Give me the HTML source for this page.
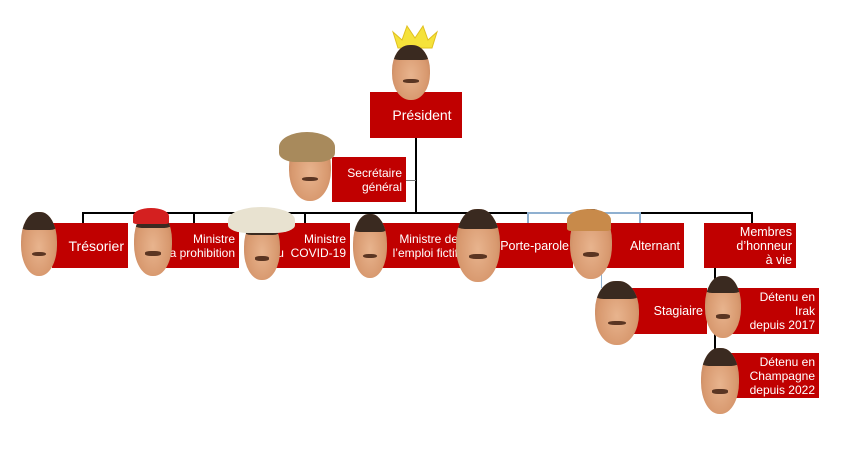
<!DOCTYPE html>
<html><head><meta charset="utf-8"><style>
body{margin:0;width:844px;height:466px;background:#fff;position:relative;overflow:hidden;font-family:"Liberation Sans",sans-serif}
.b{position:absolute;background:#c00000;color:#fff;font-size:12px;line-height:14px;text-align:right;box-sizing:border-box;padding-right:4px;display:flex;flex-direction:column;justify-content:center;align-items:flex-end;white-space:nowrap}
.l{position:absolute;background:#000}
.f{position:absolute;border-radius:46% 46% 48% 48%;background:radial-gradient(ellipse at 50% 55%,#e8b48e 0%,#d8996f 60%,#b97a55 100%);overflow:hidden}
.f::before{content:"";position:absolute;left:0;right:0;top:0;height:28%;background:#3a2a20;border-radius:50% 50% 20% 20%}
.f::after{content:"";position:absolute;left:30%;width:40%;top:62%;height:7%;background:#5a3522;border-radius:40%}
</style></head><body>
<div class="l" style="left:415px;top:138px;width:2px;height:76px"></div>
<div class="l" style="left:406px;top:180px;width:10px;height:1px;background:#777"></div>
<div class="l" style="left:82px;top:212px;width:670px;height:1.5px"></div>
<div class="l" style="left:527px;top:212px;width:112px;height:1.5px;background:#8fb0d0"></div>
<div class="l" style="left:82px;top:212px;width:1.5px;height:11px"></div>
<div class="l" style="left:193px;top:212px;width:1.5px;height:11px"></div>
<div class="l" style="left:304px;top:212px;width:1.5px;height:11px"></div>
<div class="l" style="left:527px;top:212px;width:1.5px;height:11px;background:#8fb0d0"></div>
<div class="l" style="left:639px;top:212px;width:1.5px;height:11px;background:#8fb0d0"></div>
<div class="l" style="left:751px;top:212px;width:1.5px;height:11px"></div>
<div class="l" style="left:601px;top:268px;width:1px;height:20px;background:#8fb0d0"></div>
<div class="l" style="left:714px;top:268px;width:1.5px;height:110px"></div>

<div class="b" style="left:370px;top:92px;width:92px;height:46px;font-size:14px;align-items:center;padding:0 0 0 12px">Président</div>
<div class="b" style="left:332px;top:157px;width:74px;height:45px">Secrétaire<br>général</div>
<div class="b" style="left:52px;top:223px;width:76px;height:45px;font-size:14px">Trésorier</div>
<div class="b" style="left:160px;top:223px;width:79px;height:45px">Ministre<br>la prohibition</div>
<div class="b" style="left:271px;top:223px;width:79px;height:45px">Ministre<br>du&nbsp; COVID-19</div>
<div class="b" style="left:380px;top:223px;width:82px;height:45px">Ministre de<br>l’emploi fictif</div>
<div class="b" style="left:486px;top:223px;width:87px;height:45px;font-size:12.5px">Porte-parole</div>
<div class="b" style="left:598px;top:223px;width:86px;height:45px;font-size:12.5px">Alternant</div>
<div class="b" style="left:704px;top:223px;width:92px;height:45px;font-size:12.5px">Membres<br>d’honneur<br>à vie</div>
<div class="b" style="left:627px;top:288px;width:80px;height:46px;font-size:12.5px">Stagiaire</div>
<div class="b" style="left:728px;top:288px;width:91px;height:46px;font-size:12px">Détenu en<br>Irak<br>depuis 2017</div>
<div class="b" style="left:728px;top:353px;width:91px;height:45px;font-size:12px">Détenu en<br>Champagne<br>depuis 2022</div>

<svg style="position:absolute;left:390px;top:22px" width="50" height="28"><polygon points="3,10 12,18 17,4 25,16 33,4 38,18 47,10 42,26 8,26" fill="#f5e23a" stroke="#e0c020"/></svg>
<div class="f" style="left:392px;top:45px;width:38px;height:55px"></div>
<div class="f" style="left:289px;top:137px;width:42px;height:64px"></div>
<div style="position:absolute;left:279px;top:132px;width:56px;height:30px;background:#a88a5c;border-radius:50% 50% 30% 30%"></div>
<div class="f" style="left:21px;top:212px;width:36px;height:64px"></div>
<div class="f" style="left:134px;top:210px;width:38px;height:66px"></div>
<div style="position:absolute;left:133px;top:208px;width:36px;height:16px;background:#d42020;border-radius:50% 50% 10% 10%"></div>
<div class="f" style="left:244px;top:218px;width:36px;height:62px"></div>
<div style="position:absolute;left:228px;top:207px;width:67px;height:26px;background:#e8e2d0;border-radius:50% 50% 30% 30%"></div>
<div class="f" style="left:353px;top:214px;width:34px;height:64px"></div>
<div class="f" style="left:456px;top:209px;width:44px;height:73px"></div>
<div class="f" style="left:570px;top:209px;width:42px;height:70px"></div>
<div style="position:absolute;left:567px;top:209px;width:44px;height:22px;background:#c88a4a;border-radius:50% 50% 10% 10%"></div>
<div class="f" style="left:595px;top:281px;width:44px;height:64px"></div>
<div class="f" style="left:705px;top:276px;width:36px;height:62px"></div>
<div class="f" style="left:701px;top:348px;width:38px;height:66px"></div>
</body></html>
